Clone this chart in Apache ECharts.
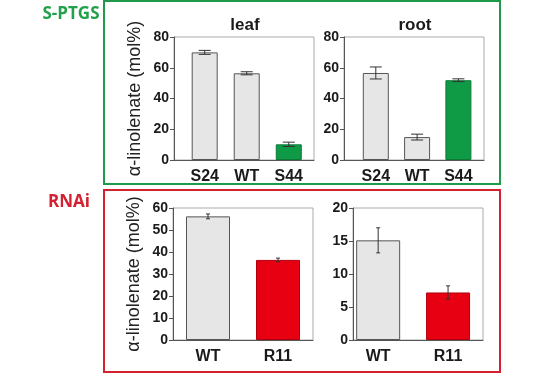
<!DOCTYPE html>
<html>
<head>
<meta charset="utf-8">
<script src="https://cdn.jsdelivr.net/npm/echarts@6/dist/echarts.min.js"></script>
<style>html,body{margin:0;padding:0;background:#fff}#c{width:540px;height:374px}</style>
</head>
<body>
<div id="c"></div>
<script>
// ---- data ----
const leafCats = ['S24', 'WT', 'S44'];
const leafVals = [70.0, 56.4, 10.2];
const leafErr = [1.3, 1.0, 1.4];

const rootCats = ['S24', 'WT', 'S44'];
const rootVals = [56.6, 14.9, 51.9];
const rootErr = [3.9, 1.9, 0.9];

const rnaiLeafCats = ['WT', 'R11'];
const rnaiLeafVals = [56.2, 36.4];
const rnaiLeafErr = [1.1, 0.8];

const rnaiRootCats = ['WT', 'R11'];
const rnaiRootVals = [15.1, 7.2];
const rnaiRootErr = [1.9, 1.0];

const yName = 'α-linolenate (mol%)';
// ---- styles ----
const FILL = {S24: '#e6e6e6', WT: '#e6e6e6', S44: '#0f9a45', R11: '#e60012'};
const EDGE = {S24: '#555', WT: '#555', S44: '#0b7a36', R11: '#b0000e'};
const FONT = 'Liberation Sans';

const chart = echarts.init(document.getElementById('c'), null, {renderer: 'canvas'});

const grids = [
  {left: 174, top: 37, width: 140, height: 123},
  {left: 344, top: 37, width: 140, height: 123},
  {left: 173, top: 208, width: 140, height: 132},
  {left: 353, top: 208, width: 130, height: 132}
];
const panels = [
  {cats: leafCats, vals: leafVals, err: leafErr, xmin: -0.73, xmax: 2.6, ymax: 80, yint: 20, bw: 26, cap: 12, name: true},
  {cats: rootCats, vals: rootVals, err: rootErr, xmin: -0.77, xmax: 2.62, ymax: 80, yint: 20, bw: 26, cap: 12, name: false},
  {cats: rnaiLeafCats, vals: rnaiLeafVals, err: rnaiLeafErr, xmin: -0.5, xmax: 1.5, ymax: 60, yint: 10, bw: 44, cap: 4, name: true},
  {cats: rnaiRootCats, vals: rnaiRootVals, err: rnaiRootErr, xmin: -0.36, xmax: 1.5, ymax: 20, yint: 5, bw: 44, cap: 4, name: false}
];

const xAxis = [], yAxis = [], series = [];
panels.forEach((p, i) => {
  xAxis.push({
    type: 'value', gridIndex: i, min: p.xmin, max: p.xmax,
    axisLine: {show: true, onZero: false, lineStyle: {color: '#555', width: 1}},
    axisTick: {show: false}, splitLine: {show: false},
    axisLabel: {
      customValues: p.cats.map((c, k) => k),
      formatter: v => p.cats[Math.round(v)] || '',
      fontFamily: FONT, fontWeight: 'bold', fontSize: 16, color: '#1a1a1a', margin: 9
    }
  });
  yAxis.push({
    type: 'value', gridIndex: i, min: 0, max: p.ymax, interval: p.yint,
    axisLine: {show: true, onZero: false, lineStyle: {color: '#555', width: 1}},
    axisTick: {show: true, length: 4, lineStyle: {color: '#555'}},
    splitLine: {show: false},
    axisLabel: {fontFamily: FONT, fontWeight: 'bold', fontSize: 14, color: '#1a1a1a', margin: 5},
    name: p.name ? yName : '', nameLocation: 'middle', nameGap: 30,
    nameTextStyle: {fontFamily: FONT, fontSize: 18, color: '#222'}
  });
  series.push({
    type: 'bar', xAxisIndex: i, yAxisIndex: i, barWidth: p.bw,
    data: p.vals.map((v, k) => ({
      value: [k, v],
      itemStyle: {color: FILL[p.cats[k]], borderColor: EDGE[p.cats[k]], borderWidth: 1}
    }))
  });
  series.push({
    type: 'custom', xAxisIndex: i, yAxisIndex: i, z: 5,
    data: p.vals.map((v, k) => [k, v - p.err[k], v + p.err[k]]),
    renderItem: (params, api) => {
      const lo = api.coord([api.value(0), api.value(1)]);
      const hi = api.coord([api.value(0), api.value(2)]);
      const h = p.cap / 2;
      const st = {stroke: '#333', lineWidth: 1};
      return {type: 'group', children: [
        {type: 'line', shape: {x1: lo[0], y1: lo[1], x2: hi[0], y2: hi[1]}, style: st},
        {type: 'line', shape: {x1: hi[0] - h, y1: hi[1], x2: hi[0] + h, y2: hi[1]}, style: st},
        {type: 'line', shape: {x1: lo[0] - h, y1: lo[1], x2: lo[0] + h, y2: lo[1]}, style: st}
      ]};
    }
  });
});

chart.setOption({
  animation: false,
  backgroundColor: '#fff',
  grid: grids.map(g => Object.assign({show: true, borderColor: '#aaa', borderWidth: 1, backgroundColor: 'transparent'}, g)),
  xAxis, yAxis, series,
  graphic: [
    {type: 'rect', shape: {x: 104, y: 1, width: 396, height: 183}, style: {fill: 'none', stroke: '#1f9a4b', lineWidth: 2}, z: 10},
    {type: 'rect', shape: {x: 104, y: 190, width: 396, height: 182}, style: {fill: 'none', stroke: '#d42030', lineWidth: 2}, z: 10},
    {type: 'text', x: 245, y: 25, style: {text: 'leaf', fontFamily: FONT, fontWeight: 'bold', fontSize: 17, fill: '#1a1a1a', align: 'center', verticalAlign: 'middle'}},
    {type: 'text', x: 415, y: 25, style: {text: 'root', fontFamily: FONT, fontWeight: 'bold', fontSize: 17, fill: '#1a1a1a', align: 'center', verticalAlign: 'middle'}},
    {type: 'text', x: 71, y: 14, style: {text: 'S-PTGS', fontFamily: 'Open Sans', fontWeight: 'bold', fontSize: 17, fill: '#23a04b', align: 'center', verticalAlign: 'middle'}},
    {type: 'text', x: 69, y: 202, style: {text: 'RNAi', fontFamily: 'Open Sans', fontWeight: 'bold', fontSize: 17, fill: '#d42030', align: 'center', verticalAlign: 'middle'}}
  ]
});
</script>
</body>
</html>
